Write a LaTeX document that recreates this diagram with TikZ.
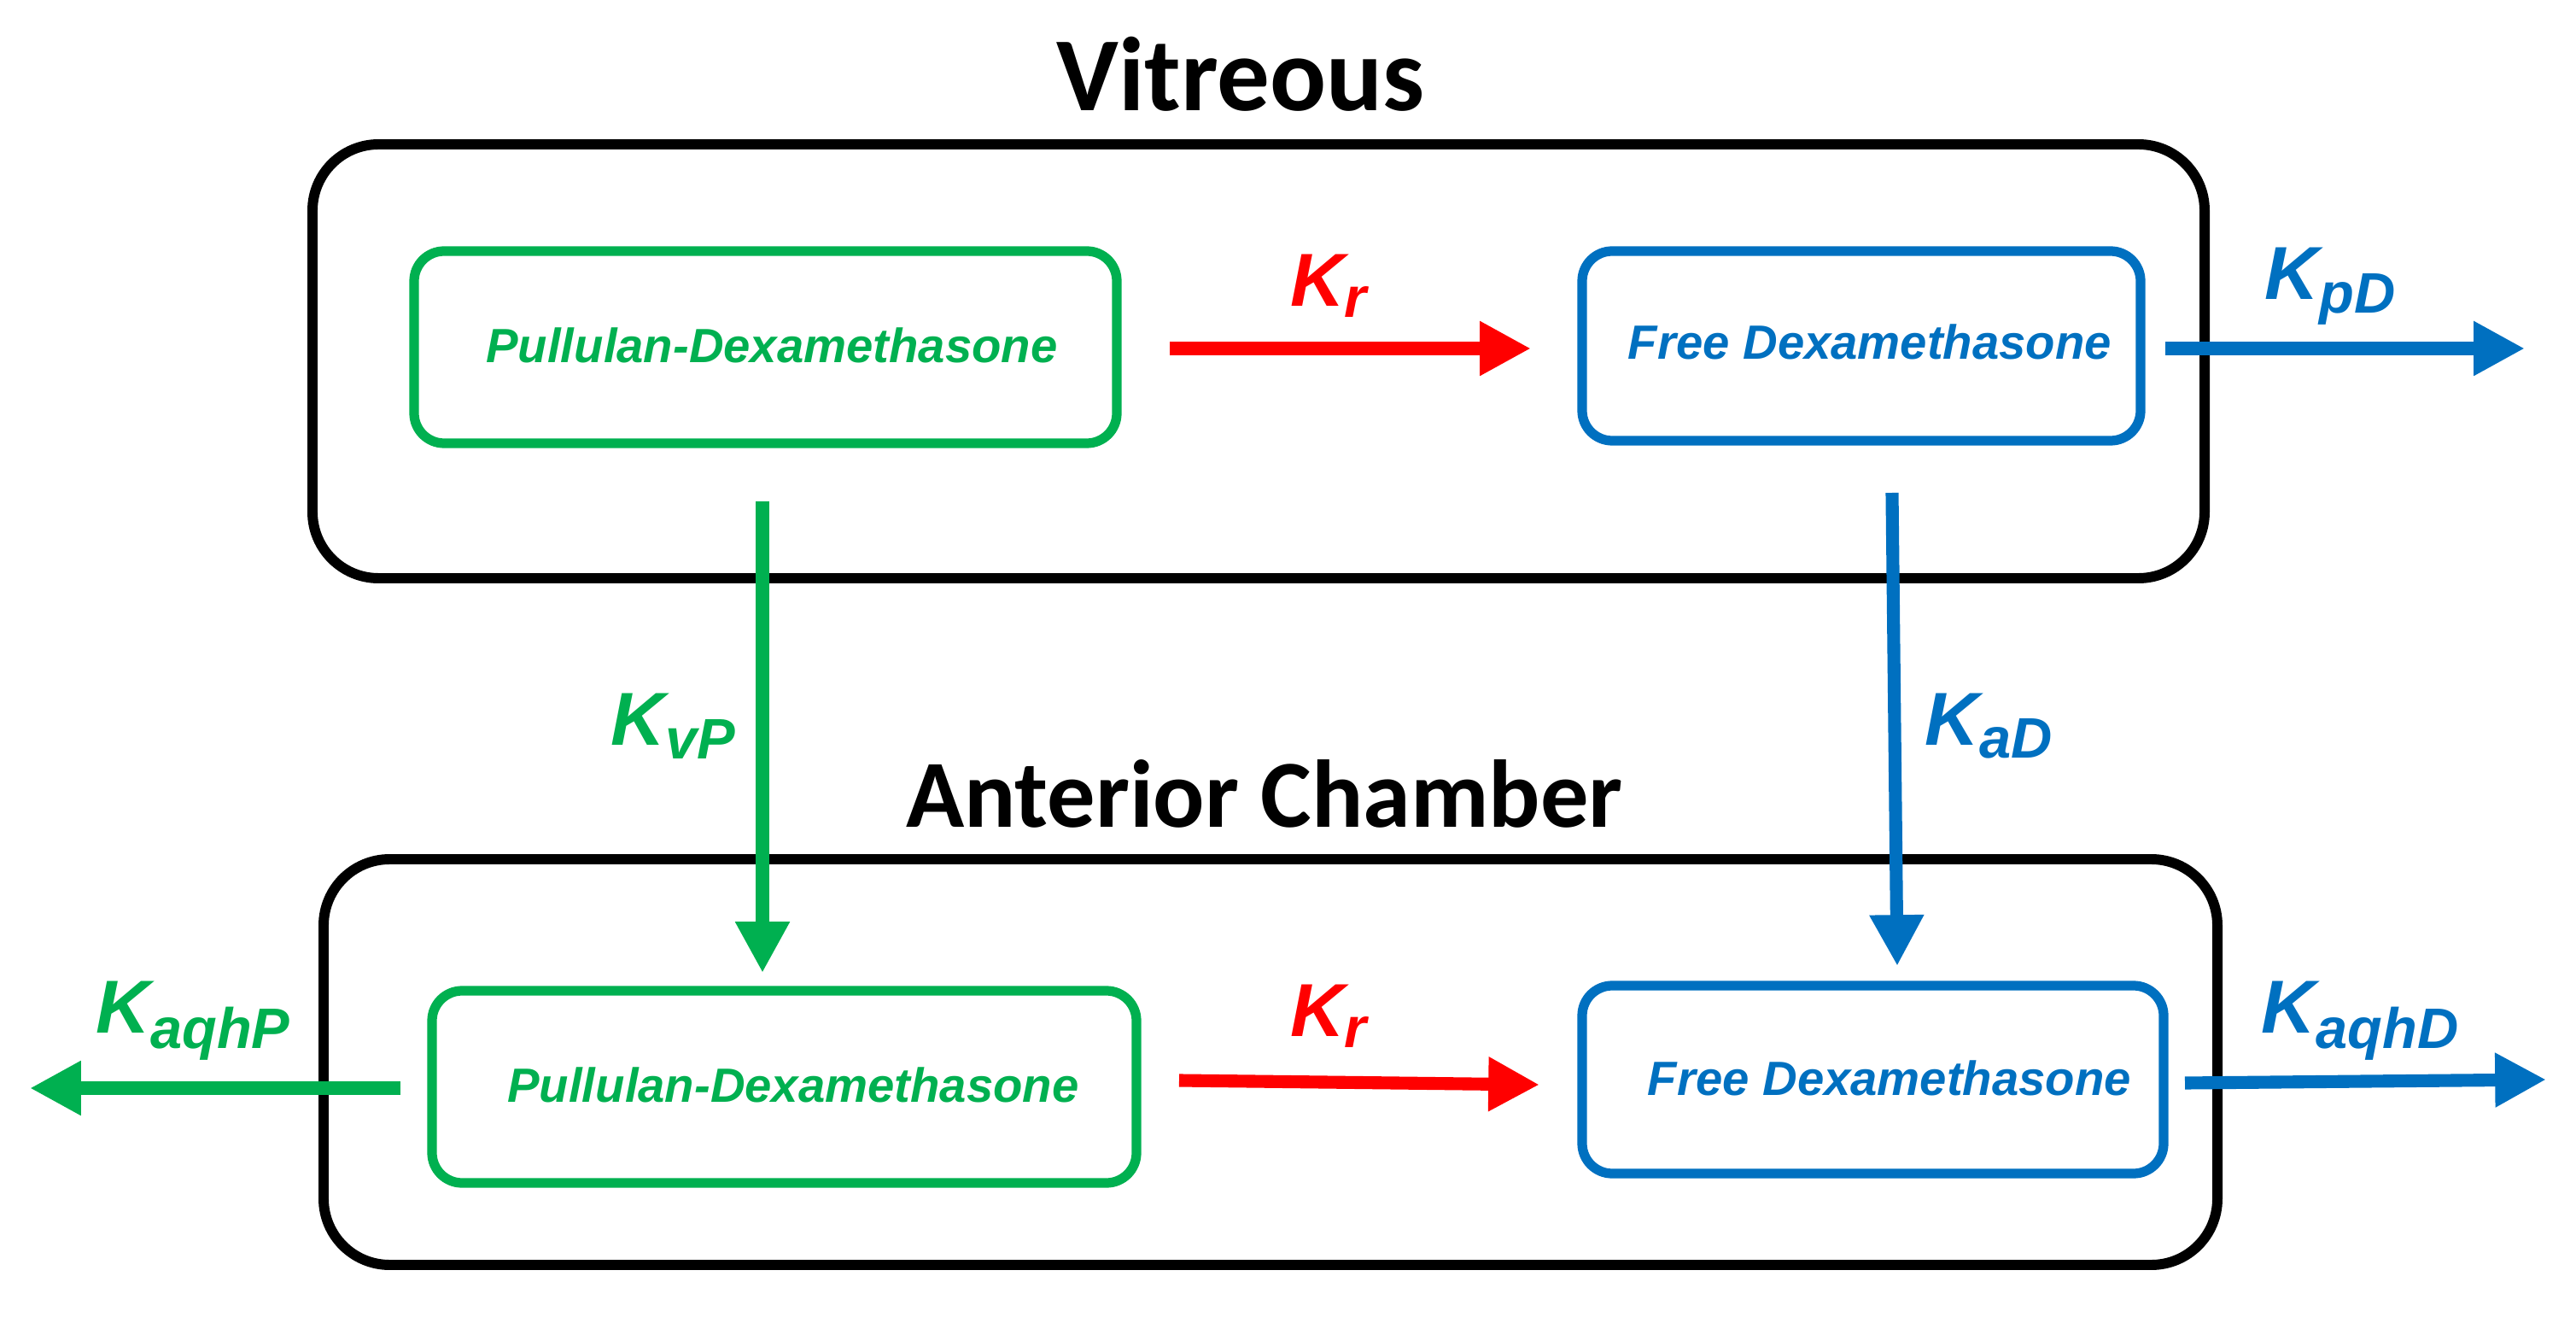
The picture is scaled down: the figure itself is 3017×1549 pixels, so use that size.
\documentclass[tikz,border=0pt]{standalone}
\usepackage{fontspec}
\setmainfont{Carlito}
\newfontfamily\arialf{Liberation Sans}
\usetikzlibrary{arrows.meta}
\definecolor{gr}{HTML}{00B050}
\definecolor{bl}{HTML}{0070C0}
\definecolor{rd}{HTML}{FF0000}
\newcommand{\ksub}[1]{\textsubscript{\fontsize{19}{21}\selectfont #1}}
\tikzset{
 outerbox/.style={draw=black,line width=3.4pt,rounded corners=22pt},
 innerbox/.style={line width=3.2pt,rounded corners=10pt},
 boxtxt/.style={font=\arialf\fontsize{16}{18}\selectfont\bfseries\itshape},
 flow/.style={line width=4.3pt,-{Triangle[length=17pt,width=17pt]}},
 klab/.style={font=\arialf\fontsize{25}{28}\selectfont\bfseries\itshape},
 title/.style={font=\fontsize{35}{38}\selectfont\bfseries}
}
\begin{document}
\begin{tikzpicture}[x=0.01cm,y=-0.01cm]
\useasboundingbox (0,0) rectangle (3017,1549);
\node[title] (t1) at (1453,87) {Vitreous};
\node[title,font=\fontsize{32}{35}\selectfont\bfseries] (t2) at (1481,929) {Anterior Chamber};
\draw[outerbox] (366,169) rectangle (2582,677);
\draw[outerbox] (379,1006) rectangle (2597,1481);
\draw[innerbox,draw=gr] (485,294) rectangle (1308,519);
\draw[innerbox,draw=bl] (1853,294) rectangle (2507,516);
\draw[innerbox,draw=gr] (506,1160) rectangle (1331,1385);
\draw[innerbox,draw=bl] (1853,1154) rectangle (2534,1374);
\node[boxtxt,text=gr] (pd1) at (904,404) {Pullulan-Dexamethasone};
\node[boxtxt,text=bl] (fd1) at (2190,400) {Free Dexamethasone};
\node[boxtxt,text=gr] (pd2) at (929,1270) {Pullulan-Dexamethasone};
\node[boxtxt,text=bl] (fd2) at (2213,1262) {Free Dexamethasone};
\coordinate (a1) at (1370,408); \coordinate (b1) at (1793,408);
\coordinate (a2) at (2536,408); \coordinate (b2) at (2957,408);
\coordinate (a3) at (893,587); \coordinate (b3) at (893,1139);
\coordinate (a4) at (2216,577); \coordinate (b4) at (2222,1131);
\coordinate (a5) at (1381,1265); \coordinate (b5) at (1803,1270);
\coordinate (a6) at (2559,1268); \coordinate (b6) at (2982,1264);
\coordinate (a7) at (469,1274); \coordinate (b7) at (35,1274);
\draw[flow,rd] (a1) -- (b1);
\draw[flow,bl] (a2) -- (b2);
\draw[flow,gr] (a3) -- (b3);
\draw[flow,bl] (a4) -- (b4);
\draw[flow,rd] (a5) -- (b5);
\draw[flow,bl] (a6) -- (b6);
\draw[flow,gr] (a7) -- (b7);
\node[klab,text=rd] (k1) at (1557,335) {K\ksub{r}};
\node[klab,text=bl] (k2) at (2730,335) {K\ksub{pD}};
\node[klab,text=gr] (k3) at (789,850) {K\ksub{vP}};
\node[klab,text=bl] (k4) at (2330,850) {K\ksub{aD}};
\node[klab,text=rd] (k5) at (1557,1190) {K\ksub{r}};
\node[klab,text=bl] (k6) at (2765,1195) {K\ksub{aqhD}};
\node[klab,text=gr] (k7) at (227,1195) {K\ksub{aqhP}};
\end{tikzpicture}
\end{document}
